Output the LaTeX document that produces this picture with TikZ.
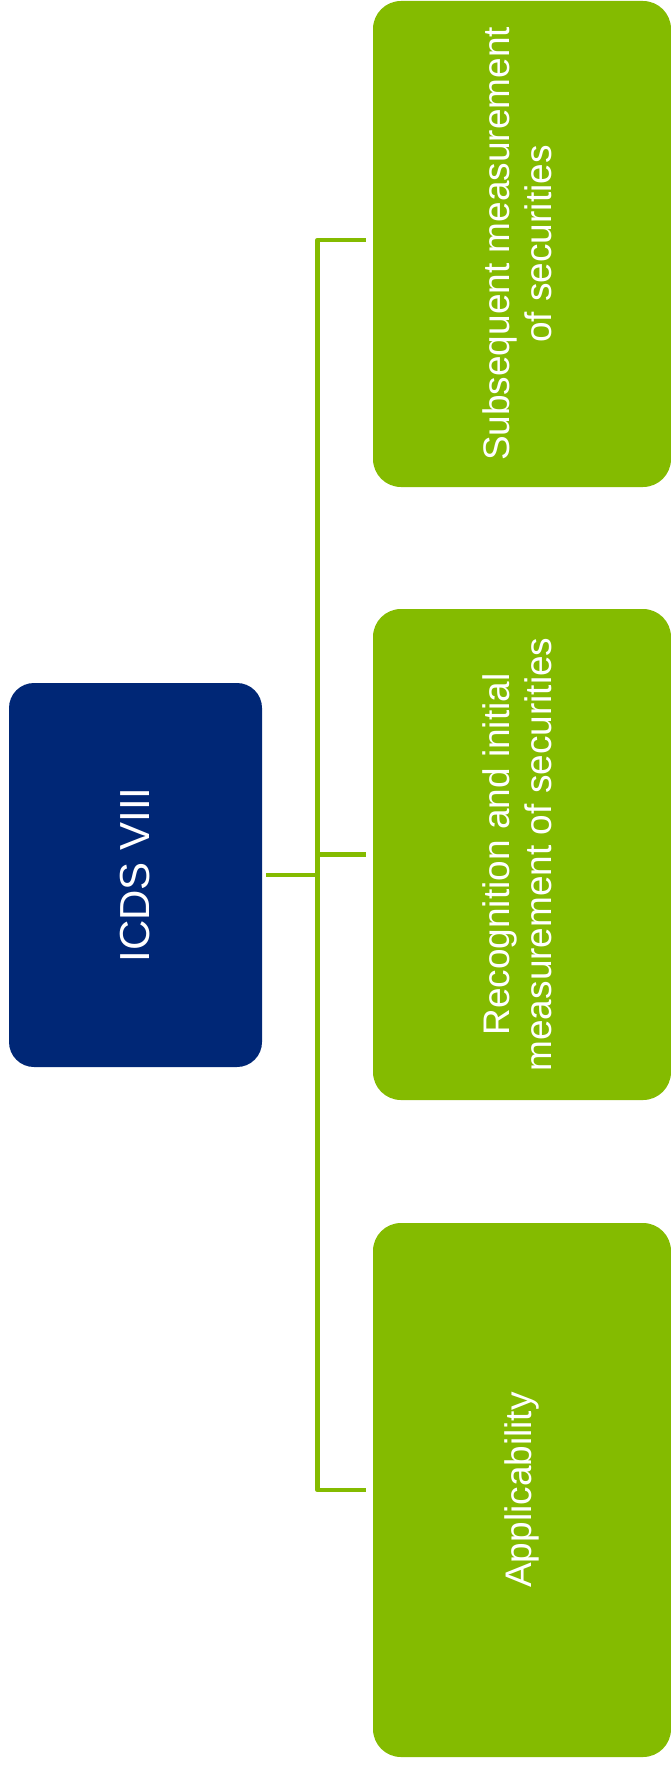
\documentclass[tikz,border=0pt]{standalone}
\usepackage{fontspec}
\setmainfont{Liberation Sans}
\usepackage{xcolor}
\usepackage{tikz}
\usetikzlibrary{positioning, calc}
\definecolor{icdsblue}{HTML}{002776}
\definecolor{icdsgreen}{HTML}{84BB00}

\begin{document}
\begin{tikzpicture}[
    x=1pt, y=-1pt,
    topicbox/.style={fill=#1, rounded corners=28pt, text=white, inner sep=0pt, minimum width=298pt, font=\fontsize{37}{42}\selectfont},
    link/.style={draw=icdsgreen, line width=4.5pt, line join=round},
]
    \useasboundingbox (0,0) rectangle (671,1766);

    % Root standard
    \node[topicbox=icdsblue, rounded corners=25pt, minimum width=253pt, minimum height=384pt, font=\fontsize{42}{48}\selectfont] (root) at (135.5, 875) {\rotatebox{90}{ICDS VIII}};

    % Topics
    \node[topicbox=icdsgreen, minimum height=486pt] (sub) at (522, 244) {\rotatebox{90}{\begin{tabular}{@{}c@{}}Subsequent measurement\\of securities\end{tabular}}};
    \node[topicbox=icdsgreen, minimum height=491pt] (rec) at (522, 854.5) {\rotatebox{90}{\begin{tabular}{@{}c@{}}Recognition and initial\\measurement of securities\end{tabular}}};
    \node[topicbox=icdsgreen, minimum height=534pt] (app) at (522, 1490) {\rotatebox{90}{Applicability}};

    % Connectors
    \coordinate (spine) at (317.5, 875);
    \draw[link] ([xshift=4pt]root.east) -- (root.east -| spine);
    \draw[link] ([xshift=-7pt, yshift=4pt]sub.west) -- ([yshift=4pt]sub.west -| spine) -- (app.west -| spine) -- ([xshift=-7pt]app.west);
    \draw[link] ([xshift=-7pt]rec.west) -- (rec.west -| spine);
\end{tikzpicture}
\end{document}
